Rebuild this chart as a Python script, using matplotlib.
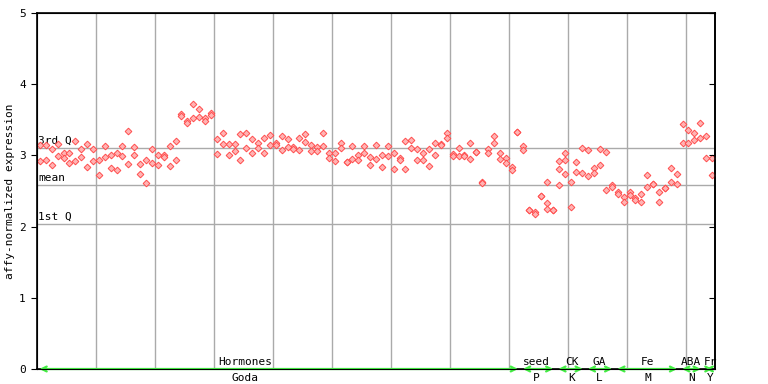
import matplotlib
matplotlib.use('Agg')
import matplotlib.pyplot as plt
import numpy as np

# expression per sample: two replicates (upper / lower reading)
rep_a = [3.15, 3.14, 3.09, 3.16, 3.04, 3.04, 3.20, 3.09, 3.16, 3.09,
         2.93, 3.13, 3.00, 3.03, 3.13, 3.34, 3.12, 2.88, 2.93, 3.09,
         3.01, 3.00, 3.13, 3.20, 3.58, 3.49, 3.72, 3.65, 3.52, 3.60,
         3.23, 3.32, 3.16, 3.16, 3.30, 3.32, 3.23, 3.18, 3.24, 3.29,
         3.18, 3.27, 3.23, 3.12, 3.24, 3.30, 3.15, 3.12, 3.32, 3.04,
         3.04, 3.18, 2.91, 3.13, 3.01, 3.13, 2.98, 3.15, 3.01, 3.13,
         3.04, 2.97, 3.20, 3.22, 3.09, 3.03, 3.09, 3.17, 3.16, 3.32,
         3.02, 3.10, 3.01, 3.17, 3.05, 2.63, 3.09, 3.27, 3.03, 2.97,
         2.84, 3.33, 3.13, 2.23, 2.21, 2.43, 2.33, 2.24, 2.92, 3.03,
         2.63, 2.91, 3.11, 3.07, 2.82, 3.09, 3.05, 2.58, 2.49, 2.41,
         2.49, 2.40, 2.46, 2.72, 2.60, 2.49, 2.54, 2.83, 2.74, 3.44,
         3.36, 3.31, 3.45, 3.27, 2.97]
rep_b = [2.92, 2.93, 2.87, 2.99, 2.96, 2.90, 2.92, 2.98, 2.84, 2.92,
         2.72, 2.98, 2.82, 2.79, 2.99, 2.88, 3.00, 2.74, 2.61, 2.90,
         2.87, 2.98, 2.85, 2.93, 3.56, 3.46, 3.52, 3.54, 3.49, 3.57,
         3.02, 3.16, 3.01, 3.06, 2.93, 3.10, 3.04, 3.10, 3.04, 3.14,
         3.15, 3.07, 3.12, 3.09, 3.07, 3.19, 3.06, 3.06, 3.13, 2.96,
         2.92, 3.10, 2.91, 2.95, 2.93, 3.04, 2.87, 2.95, 2.84, 2.99,
         2.81, 2.94, 2.81, 3.10, 2.93, 2.93, 2.85, 3.00, 3.14, 3.24,
         2.99, 2.99, 2.99, 2.95, 3.05, 2.61, 3.04, 3.18, 2.95, 2.90,
         2.79, 3.33, 3.07, 2.23, 2.17, 2.43, 2.25, 2.24, 2.81, 2.94,
         2.27, 2.77, 2.75, 2.71, 2.75, 2.86, 2.52, 2.55, 2.46, 2.35,
         2.44, 2.37, 2.35, 2.55, 2.60, 2.35, 2.54, 2.63, 2.60, 3.17,
         3.17, 3.22, 3.25, 2.97, 2.72]
extra_idx = [86, 88, 89]
extra_val = [2.62, 2.58, 2.74]

quantiles = {'3rd Q': 3.10, 'mean': 2.58, '1st Q': 2.04}

# experiment groups
group_start = [0, 82, 88, 93, 98, 109, 113]
group_end = [82, 88, 93, 98, 109, 113, 115]
group_top = ['Hormones', 'seed', 'CK', 'GA', 'Fe', 'ABA', 'Fr']
group_bottom = ['Goda', 'P', 'K', 'L', 'M', 'N', 'Y']
group_label_x = [35.3, 84.7, 90.7, 95.4, 103.6, 111.0, 114.2]

n = len(rep_a)
xs = np.arange(n) + 0.5

plt.rcParams['font.family'] = ['DejaVu Sans Mono']
fig = plt.figure(figsize=(7.68, 3.84), dpi=100)
ax = fig.add_axes([37/768, 15/384, 678/768, 356/384])

ax.set_xlim(0, 115)
ax.set_ylim(0, 5)

for gx in range(10, 115, 10):
    ax.axvline(gx, color='#aaaaaa', lw=1, zorder=1)
for lab, val in quantiles.items():
    ax.axhline(val, color='#aaaaaa', lw=1, zorder=1)
    ax.text(0.2, val + 0.03, lab, fontsize=8, ha='left', va='bottom', zorder=3)

mk = dict(marker='D', ms=3.4, mfc='#ffb4b4', mec='#ff4d4d', mew=0.7, ls='none', zorder=4)
ax.plot(xs, rep_a, **mk)
ax.plot(xs, rep_b, **mk)
ax.plot(np.array(extra_idx) + 0.5, extra_val, **mk)

# green group arrows along the bottom
for s, e in zip(group_start, group_end):
    ax.annotate('', xy=(s + 0.4, 0), xytext=(e - 0.4, 0),
                arrowprops=dict(arrowstyle='<->,head_length=0.5,head_width=0.25',
                                color='#44ee44', lw=1.6,
                                mutation_scale=7, shrinkA=0, shrinkB=0),
                annotation_clip=False, zorder=6)
for lx, top, bot in zip(group_label_x, group_top, group_bottom):
    ax.text(lx, 0.03, top, fontsize=8, ha='center', va='bottom')
    ax.text(lx, -0.06, bot, fontsize=8, ha='center', va='top')

ax.set_yticks([0, 1, 2, 3, 4, 5])
ax.set_xticks([])
ax.tick_params(axis='y', direction='out', length=4, labelsize=8, pad=4)
ax.set_ylabel('affy-normalized expression', fontsize=8, labelpad=3)
for sp in ax.spines.values():
    sp.set_color('black')
    sp.set_linewidth(1.2)

# inward ticks on the right side
ax2 = ax.twinx()
ax2.set_ylim(0, 5)
ax2.set_yticks([0, 1, 2, 3, 4, 5])
ax2.tick_params(axis='y', direction='in', length=4, labelright=False)
ax2.spines['right'].set_linewidth(1.2)

fig.savefig('out.png', dpi=100)
